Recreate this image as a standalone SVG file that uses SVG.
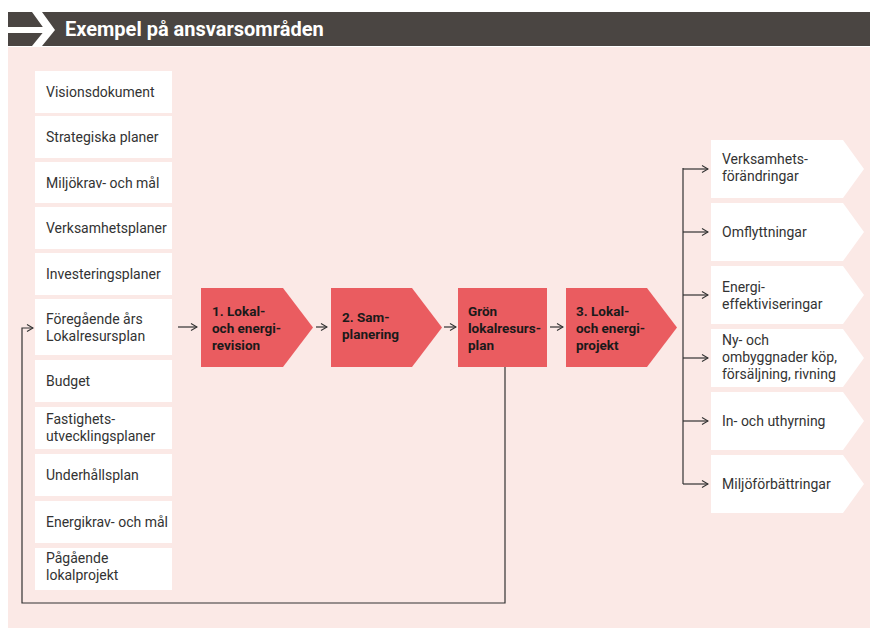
<svg xmlns="http://www.w3.org/2000/svg" width="870" height="628" viewBox="0 0 870 628">
  <defs>
    <style>
      .src rect { fill: #ffffff; }
      .txt { font-family: Roboto, "Open Sans", sans-serif; font-size: 14px; fill: #333333; }
      .step polygon, .step rect { fill: #ea5c60; }
      .stxt { font-family: Roboto, "Open Sans", sans-serif; font-size: 13.5px; font-weight: bold; fill: #1a1a1a; }
      .out polygon { fill: #ffffff; }
      .conn path { fill: none; stroke: #333333; stroke-width: 1.2; }
    </style>
    <marker id="arr" markerUnits="userSpaceOnUse" markerWidth="8" markerHeight="9" refX="7" refY="4.5" orient="auto">
      <path d="M1,1 L7,4.5 L1,8" fill="none" stroke="#333333" stroke-width="1.1"/>
    </marker>
  </defs>

  <!-- background panel and header -->
  <rect x="0" y="0" width="870" height="628" fill="#ffffff"/>
  <rect x="8" y="47" width="862" height="581" fill="#fbe9e6"/>
  <g id="header">
    <rect x="8" y="12" width="862" height="34" fill="#4a4542"/>
    <rect x="8" y="27" width="38" height="6" fill="#ffffff"/>
    <polygon points="32,12 42,12 55,30 42,46 32,46 45,30" fill="#ffffff"/>
    <text x="65" y="36" font-family="Roboto, 'Open Sans', sans-serif" font-size="20" font-weight="bold" fill="#ffffff">Exempel på ansvarsområden</text>
  </g>

  <!-- input documents -->
  <g class="src">
    <g id="n-visionsdokument"><rect x="35" y="71" width="137" height="42"/><text class="txt" x="46" y="97">Visionsdokument</text></g>
    <g id="n-strategiska"><rect x="35" y="116" width="137" height="42"/><text class="txt" x="46" y="142">Strategiska planer</text></g>
    <g id="n-miljokrav"><rect x="35" y="162" width="137" height="41"/><text class="txt" x="46" y="188">Miljökrav- och mål</text></g>
    <g id="n-verksamhetsplaner"><rect x="35" y="207" width="137" height="42"/><text class="txt" x="46" y="233">Verksamhetsplaner</text></g>
    <g id="n-investeringsplaner"><rect x="35" y="253" width="137" height="42"/><text class="txt" x="46" y="279">Investeringsplaner</text></g>
    <g id="n-foregaende"><rect x="35" y="299" width="137" height="56"/><text class="txt" x="46" y="324">Föregående års</text><text class="txt" x="46" y="341">Lokalresursplan</text></g>
    <g id="n-budget"><rect x="35" y="360" width="137" height="42"/><text class="txt" x="46" y="386">Budget</text></g>
    <g id="n-fastighets"><rect x="35" y="407" width="137" height="42"/><text class="txt" x="46" y="424">Fastighets-</text><text class="txt" x="46" y="441">utvecklingsplaner</text></g>
    <g id="n-underhall"><rect x="35" y="454" width="137" height="42"/><text class="txt" x="46" y="480">Underhållsplan</text></g>
    <g id="n-energikrav"><rect x="35" y="501" width="137" height="42"/><text class="txt" x="46" y="527">Energikrav- och mål</text></g>
    <g id="n-pagaende"><rect x="35" y="548" width="137" height="42"/><text class="txt" x="46" y="563">Pågående</text><text class="txt" x="46" y="580">lokalprojekt</text></g>
  </g>

  <!-- process steps -->
  <g class="step">
    <g id="s1"><polygon points="201,288 283,288 313,327.5 283,367 201,367"/>
      <text class="stxt" x="212" y="316">1. Lokal-</text><text class="stxt" x="212" y="333">och energi-</text><text class="stxt" x="212" y="350">revision</text></g>
    <g id="s2"><polygon points="331,288 412,288 442,327.5 412,367 331,367"/>
      <text class="stxt" x="342" y="322">2. Sam-</text><text class="stxt" x="342" y="339">planering</text></g>
    <g id="s3"><rect x="458" y="288" width="89" height="79"/>
      <text class="stxt" x="468" y="316">Grön</text><text class="stxt" x="468" y="333">lokalresurs-</text><text class="stxt" x="468" y="350">plan</text></g>
    <g id="s4"><polygon points="566,288 647,288 677,327.5 647,367 566,367"/>
      <text class="stxt" x="576" y="316">3. Lokal-</text><text class="stxt" x="576" y="333">och energi-</text><text class="stxt" x="576" y="350">projekt</text></g>
  </g>

  <!-- outcomes -->
  <g class="out">
    <g id="o1"><polygon points="711,140 843,140 864,169 843,198 711,198"/>
      <text class="txt" x="722" y="164">Verksamhets-</text><text class="txt" x="722" y="181">förändringar</text></g>
    <g id="o2"><polygon points="711,203 843,203 864,232 843,261 711,261"/>
      <text class="txt" x="722" y="237">Omflyttningar</text></g>
    <g id="o3"><polygon points="711,266 843,266 864,295 843,324 711,324"/>
      <text class="txt" x="722" y="292">Energi-</text><text class="txt" x="722" y="309">effektiviseringar</text></g>
    <g id="o4"><polygon points="711,329 843,329 864,358 843,387 711,387"/>
      <text class="txt" x="722" y="345">Ny- och</text><text class="txt" x="722" y="362">ombyggnader köp,</text><text class="txt" x="722" y="379">försäljning, rivning</text></g>
    <g id="o5"><polygon points="711,392 843,392 864,421 843,450 711,450"/>
      <text class="txt" x="722" y="426">In- och uthyrning</text></g>
    <g id="o6"><polygon points="711,455 843,455 864,484 843,513 711,513"/>
      <text class="txt" x="722" y="489">Miljöförbättringar</text></g>
  </g>

  <!-- connectors -->
  <g class="conn">
    <path d="M178,327 H197" marker-end="url(#arr)"/>
    <path d="M316,327 H327" marker-end="url(#arr)"/>
    <path d="M444,327 H456" marker-end="url(#arr)"/>
    <path d="M550,327 H563" marker-end="url(#arr)"/>
    <path d="M505,367 V603 H22 V328 H33" marker-end="url(#arr)"/>
    <path d="M683,168 V484"/>
    <path d="M683,169 H708" marker-end="url(#arr)"/>
    <path d="M683,232 H708" marker-end="url(#arr)"/>
    <path d="M683,295 H708" marker-end="url(#arr)"/>
    <path d="M683,358 H708" marker-end="url(#arr)"/>
    <path d="M683,421 H708" marker-end="url(#arr)"/>
    <path d="M683,484 H708" marker-end="url(#arr)"/>
  </g>
</svg>
